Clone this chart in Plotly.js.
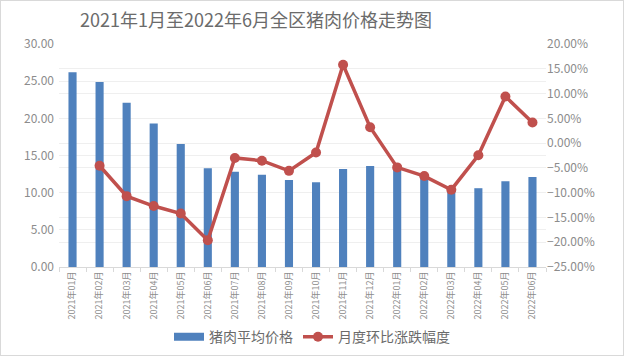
<!DOCTYPE html>
<html>
<head>
<meta charset="utf-8">
<script src="https://cdn.plot.ly/plotly-3.0.1.min.js"></script>
<style>html,body{margin:0;padding:0;background:#fff;}#chart{width:624px;height:356px;box-sizing:border-box;border:1px solid #d9d9d9;}</style>
</head>
<body>
<div id="chart"></div>
<script>
const months = ["2021年01月","2021年02月","2021年03月","2021年04月","2021年05月","2021年06月","2021年07月","2021年08月","2021年09月","2021年10月","2021年11月","2021年12月","2022年01月","2022年02月","2022年03月","2022年04月","2022年05月","2022年06月"];
const avgPrice = [26.2, 24.9, 22.1, 19.3, 16.55, 13.3, 12.8, 12.4, 11.7, 11.4, 13.2, 13.6, 13.1, 12.2, 10.5, 10.6, 11.55, 12.1];
const momChange = [null, -4.57, -10.7, -12.7, -14.2, -19.6, -3.0, -3.55, -5.6, -1.9, 15.8, 3.2, -4.9, -6.65, -9.4, -2.46, 9.4, 4.15];

const gray = "#8c8c8c";
const blue = "#4f81bd";
const red = "#c0504d";
const traces = [
  {type:"bar", name:"猪肉平均价格", x:months, y:avgPrice, marker:{color:blue}, width:0.3, yaxis:"y", showlegend:false, legendgroup:"bar"},
  // legend-only entry giving the wide rectangle key used in the reference
  {type:"scatter", mode:"lines", name:"猪肉平均价格", x:[null], y:[null], yaxis:"y", line:{color:blue, width:8}, legendgroup:"bar", hoverinfo:"skip"},
  {type:"scatter", mode:"lines+markers", name:"月度环比涨跌幅度", x:months, y:momChange, yaxis:"y2",
   line:{color:red, width:3.5}, marker:{color:red, size:10}, connectgaps:false}
];
const layout = {
  width:622, height:354,
  margin:{l:58, r:77, t:43, b:88},
  paper_bgcolor:"#fff", plot_bgcolor:"#fff",
  font:{family:"Noto Sans CJK SC, sans-serif", color:gray},
  title:{text:"2021年1月至2022年6月全区猪肉价格走势图", x:0.41, xanchor:"center", y:0.945, yanchor:"middle", font:{size:18, color:"#6b6b6b"}},
  showlegend:true,
  legend:{orientation:"h", xref:"container", yref:"container", x:0.5, xanchor:"center", y:0.005, yanchor:"bottom", font:{size:14, color:"#6b6b6b"}},
  xaxis:{type:"category", range:[-0.5, 17.5], automargin:false, tickangle:-90, tickfont:{size:9, color:gray}, showgrid:false, showline:true, linecolor:"#d9d9d9",
         ticks:"outside", tickson:"boundaries", ticklen:4, tickcolor:"#d9d9d9"},
  yaxis:{automargin:false, range:[0,30], dtick:5, tickformat:".2f", tickfont:{size:12, color:gray}, gridcolor:"#efefef", zeroline:false, showline:false, ticklabelstandoff:4},
  yaxis2:{automargin:false, overlaying:"y", side:"right", range:[-25,20], dtick:5, tickformat:".2f", ticksuffix:"%", tickfont:{size:12, color:gray},
          gridcolor:"#efefef", zeroline:false, showline:false}
};
Plotly.newPlot("chart", traces, layout, {displayModeBar:false});
</script>
</body>
</html>
